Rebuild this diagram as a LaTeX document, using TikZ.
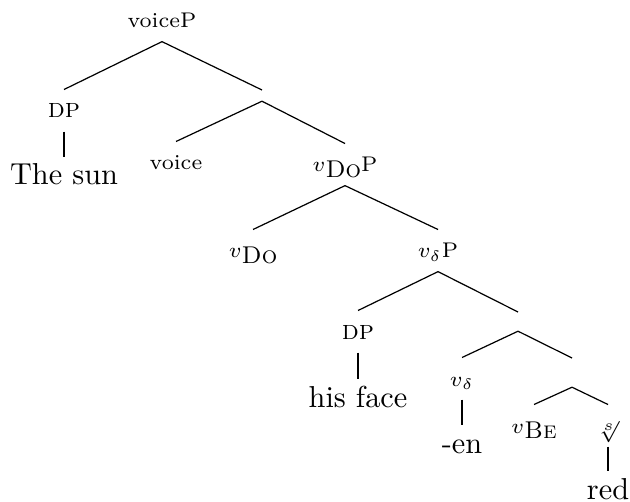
\documentclass[tikz,border=0pt]{standalone}
\usepackage{amsmath,amssymb}
\usepackage{tikz}
\usetikzlibrary{positioning}
\newcommand{\vsub}[1]{$v$\raisebox{-1.7pt}{\footnotesize\textsc{#1}}}

\begin{document}
\begin{tikzpicture}[
  x=0.33pt, y=-0.33pt,
  tn/.style={inner sep=0pt, text height=9.2pt, text depth=4.3pt, anchor=base},
  lbl/.style={tn, font=\scriptsize},
  leaf/.style={tn, font=\normalsize},
  gap/.style={inner sep=0pt, minimum width=0pt, anchor=north},
  br/.style={draw=black, line width=0.4pt}
]
\useasboundingbox (0,0) rectangle (630,501);

% Labelled nodes
\node[lbl] (voiceP) at (162,28) {voiceP};
\node[lbl] (dpA) at (64,118) {\small\textsc{dp}};
\node[leaf] (sun) at (64,185) {The sun};
\node[gap, minimum height=10*0.33pt] (barA) at (262,90) {};
\node[lbl] (voice) at (176,170) {voice};
\node[lbl] (vDoP) at (345,172) {\vsub{Do}P};
\node[lbl] (vDo) at (253,258) {\vsub{Do}};
\node[lbl] (vdP) at (438,258) {$v_{\delta}$P};
\node[lbl] (dpB) at (358,339) {\small\textsc{dp}};
\node[leaf] (face) at (358,407) {his face};
\node[gap, minimum height=18*0.33pt] (barB) at (518,312) {};
\node[lbl] (vd) at (462,386) {$v_{\delta}$};
\node[leaf] (en) at (462,453) {-en};
\node[gap, minimum height=28*0.33pt] (barC) at (572,358) {};
\node[lbl] (vBe) at (534,433) {\vsub{Be}};
\node[lbl] (root) at (608,433) {$\sqrt[s]{}$};
\node[leaf] (red) at (608,499) {red};

% Branches
\draw[br] (voiceP.south) -- (dpA.north);
\draw[br] (voiceP.south) -- (barA.north);
\draw[br] (dpA.south) -- (sun.north);
\draw[br] (barA.south) -- (voice.north);
\draw[br] (barA.south) -- (vDoP.north);
\draw[br] (vDoP.south) -- (vDo.north);
\draw[br] (vDoP.south) -- (vdP.north);
\draw[br] (vdP.south) -- (dpB.north);
\draw[br] (vdP.south) -- (barB.north);
\draw[br] (dpB.south) -- (face.north);
\draw[br] (barB.south) -- (vd.north);
\draw[br] (barB.south) -- (barC.north);
\draw[br] (vd.south) -- (en.north);
\draw[br] (barC.south) -- (vBe.north);
\draw[br] (barC.south) -- (root.north);
\draw[br] (root.south) -- (red.north);

\end{tikzpicture}
\end{document}
